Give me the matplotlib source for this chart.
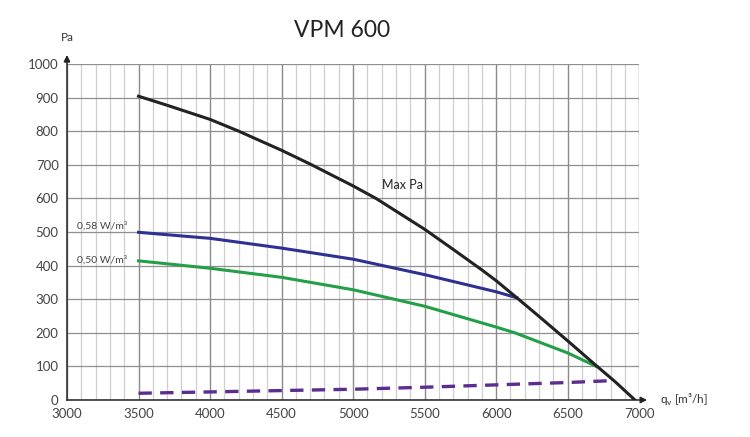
import matplotlib.pyplot as plt

plt.rcParams["font.family"] = ["Lato", "DejaVu Sans"]

# Curve data (q_v in m3/h, pressure in Pa)
max_q = [3500, 3700, 3900, 4000, 4200, 4500, 4700, 5000, 5163, 5500,
         5700, 5900, 6000, 6145, 6310, 6500, 6700, 6830, 6970]
max_pa = [904, 877, 849, 835, 800, 743, 702, 637, 599, 508,
          448, 387, 355, 304, 245, 176, 102, 55, 0]

q058 = [3500, 4000, 4500, 5000, 5500, 6000, 6145]
pa058 = [499, 481, 452, 419, 373, 322, 304]

q050 = [3500, 4000, 4500, 5000, 5500, 6000, 6130, 6500, 6700]
pa050 = [414, 392, 365, 328, 279, 217, 200, 140, 100]

q_min = [3500, 4000, 4500, 5000, 5500, 6000, 6500, 6830]
pa_min = [20, 24, 28, 32, 38, 45, 52, 58]

x_ticks = [3000, 3500, 4000, 4500, 5000, 5500, 6000, 6500, 7000]
y_ticks = [0, 100, 200, 300, 400, 500, 600, 700, 800, 900, 1000]

fig = plt.figure(figsize=(7.5, 4.37), dpi=100)
ax = fig.add_axes([0.0893, 0.0847, 0.763, 0.769])

ax.set_xlim(3000, 7000)
ax.set_ylim(0, 1000)

# grid: light every 100 m3/h, darker every 500
for x in range(3000, 7001, 100):
    major = x % 500 == 0
    ax.axvline(x, color="#8a8a8a" if major else "#cfcfcf",
               lw=1.0 if major else 0.9, zorder=1)
for y in y_ticks:
    ax.axhline(y, color="#8f8f8f", lw=0.9, zorder=1)

ax.plot(max_q, max_pa, color="#222222", lw=2.2, zorder=4,
        solid_joinstyle="round")
ax.plot(q058, pa058, color="#2e3192", lw=2.2, zorder=3,
        solid_joinstyle="round")
ax.plot(q050, pa050, color="#23a047", lw=2.2, zorder=3,
        solid_joinstyle="round")
ax.plot(q_min, pa_min, color="#5c2d91", lw=2.4, ls=(0, (4, 2.5)), zorder=3)

for s in ["top", "right"]:
    ax.spines[s].set_visible(False)
for s in ["left", "bottom"]:
    ax.spines[s].set_color("#333333")
    ax.spines[s].set_linewidth(1.2)

ax.set_xticks(x_ticks)
ax.set_yticks(y_ticks)
ax.tick_params(length=0, labelsize=9.5, colors="#444444", pad=6)

# axis arrows
ax.annotate("", xy=(7075, 0), xytext=(6990, 0), xycoords="data",
            arrowprops=dict(arrowstyle="-|>", color="#222222", lw=1.2,
                            mutation_scale=9),
            annotation_clip=False)
ax.annotate("", xy=(3000, 1035), xytext=(3000, 995), xycoords="data",
            arrowprops=dict(arrowstyle="-|>", color="#222222", lw=1.2,
                            mutation_scale=9),
            annotation_clip=False)

ax.text(3000, 1080, "Pa", fontsize=8.5, color="#333333", ha="center",
        va="center")
ax.text(7145, 0, "q$_\\mathregular{v}$ [m³/h]", fontsize=8.5,
        color="#333333", ha="left", va="center")

ax.text(5200, 640, "Max Pa", fontsize=9, color="#222222", ha="left",
        va="center")
ax.text(3420, 518, "0,58 W/m³", fontsize=7.5, color="#444444", ha="right",
        va="center")
ax.text(3420, 415, "0,50 W/m³", fontsize=7.5, color="#444444", ha="right",
        va="center")

fig.text(0.456, 0.93, "VPM 600", fontsize=16.5, color="#222222",
         ha="center", va="center")

fig.savefig("out.png", dpi=100)
